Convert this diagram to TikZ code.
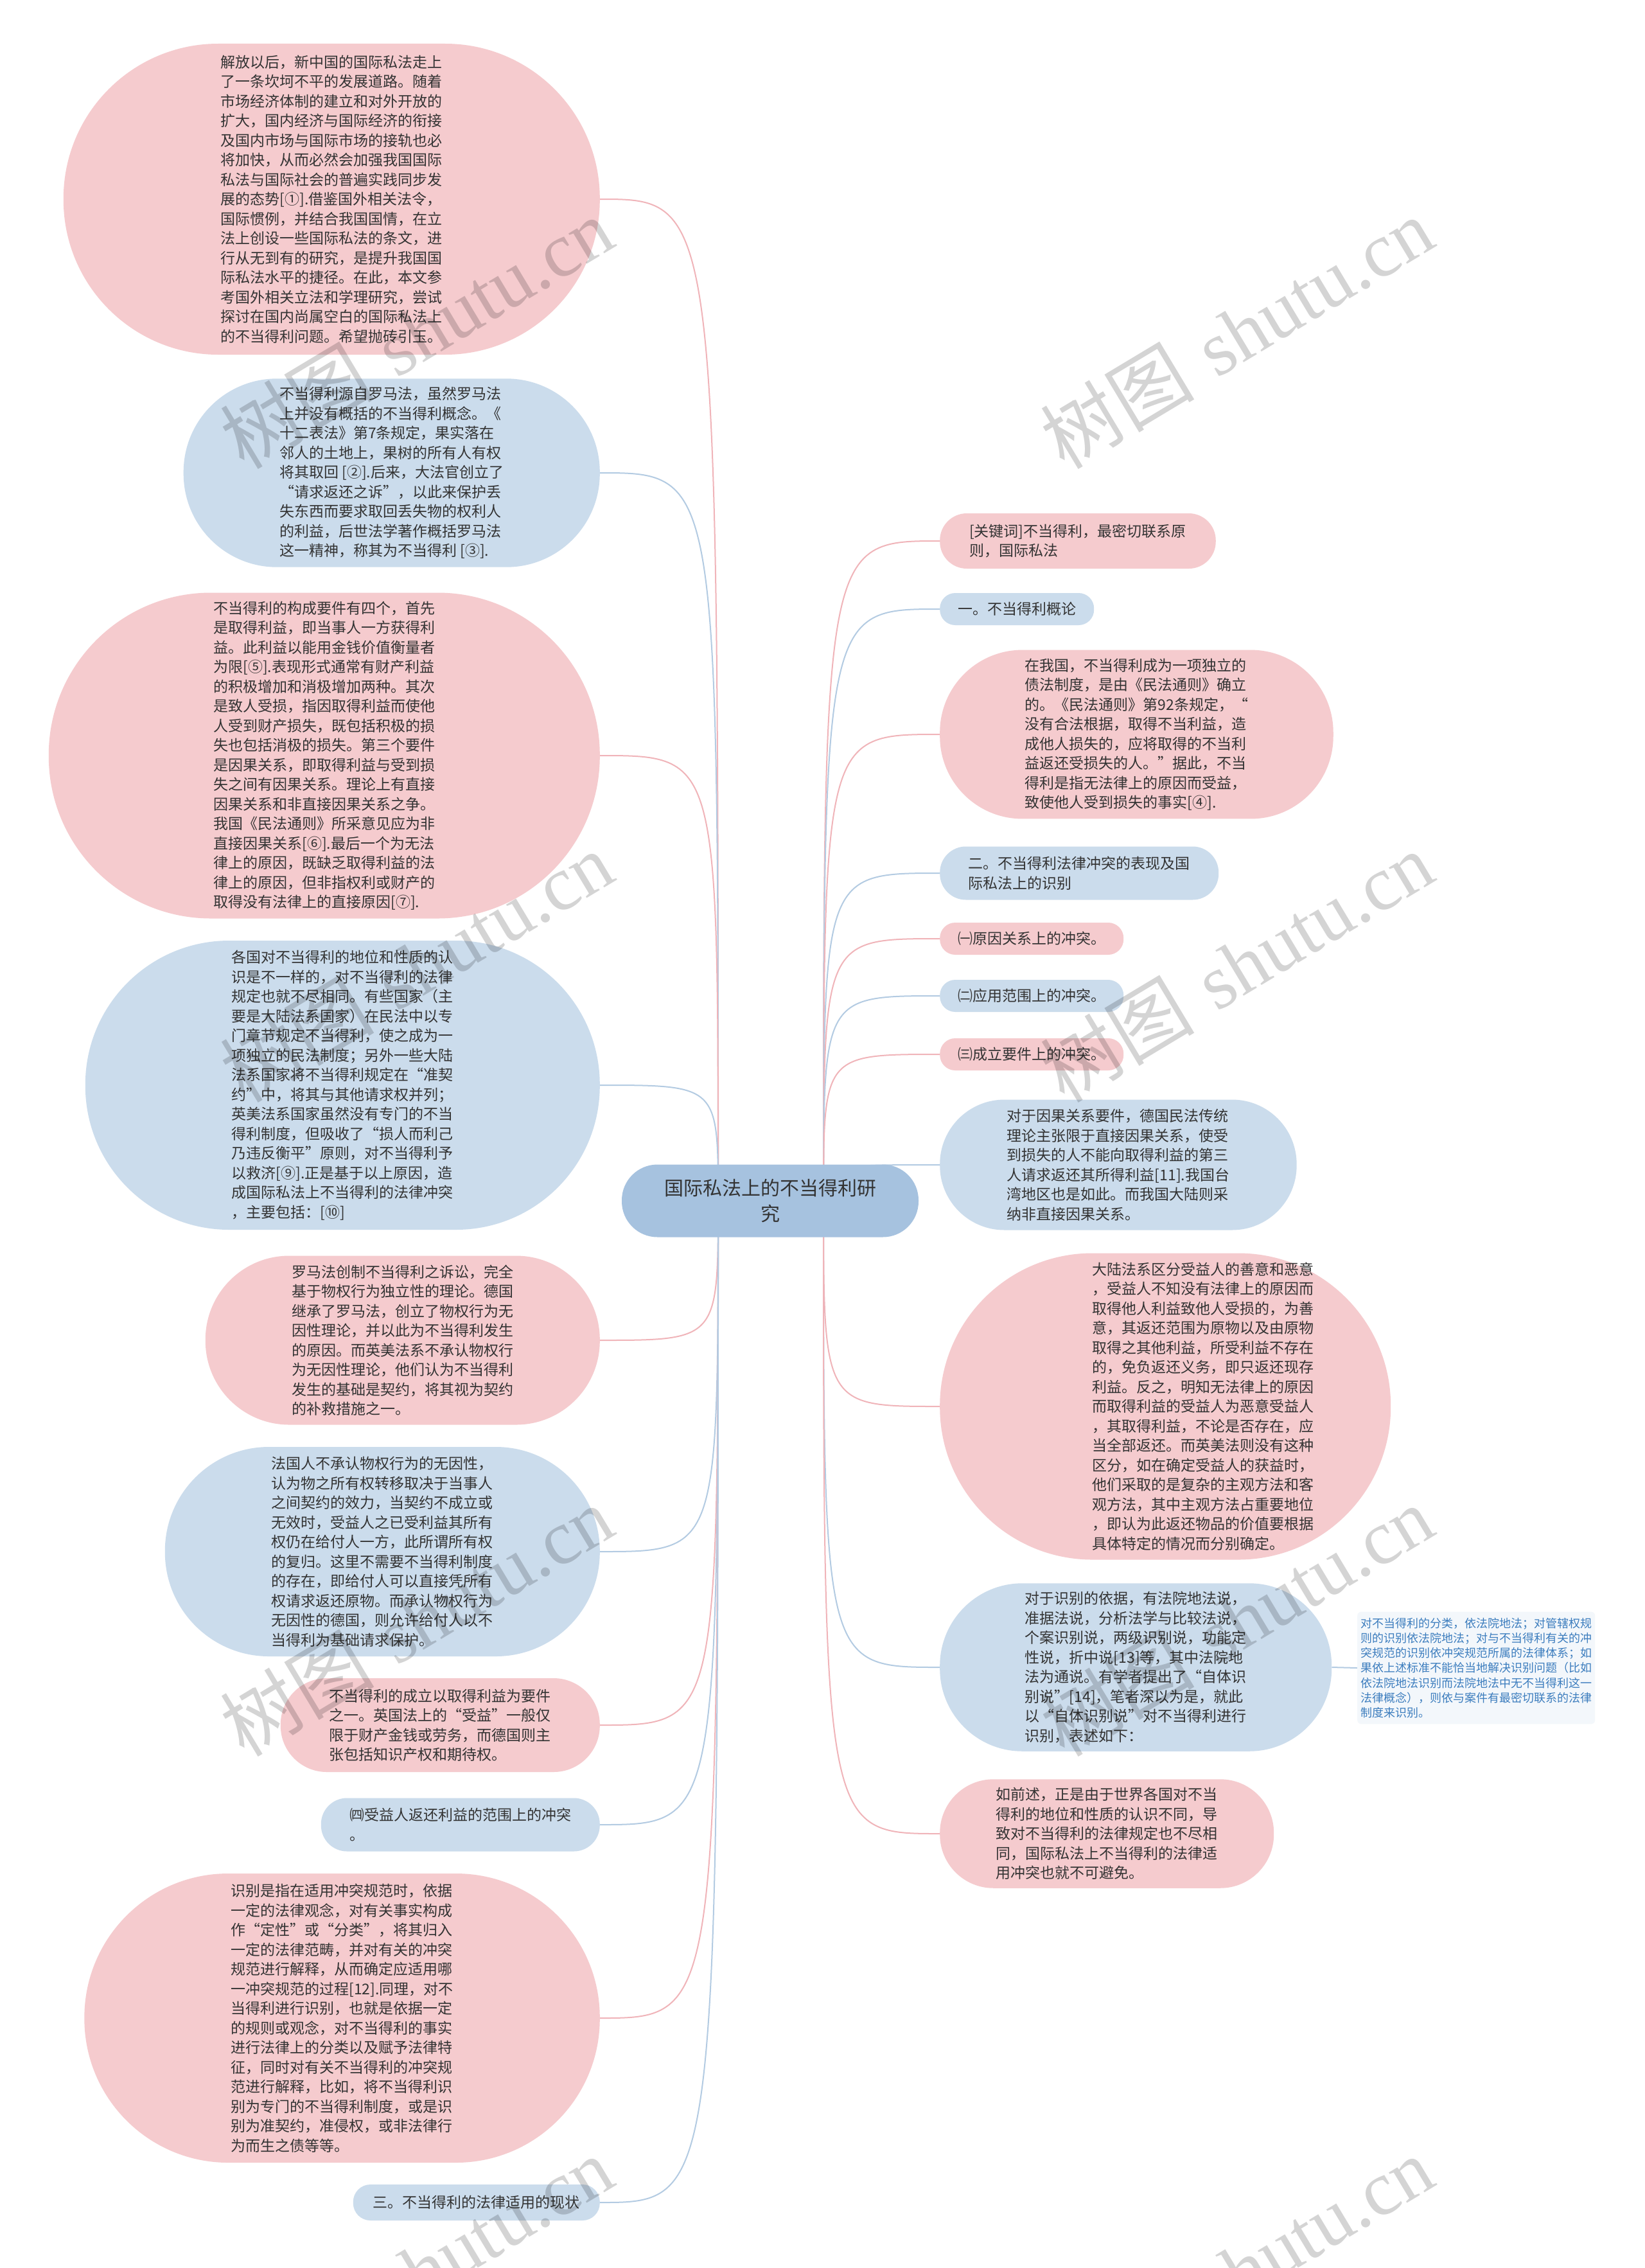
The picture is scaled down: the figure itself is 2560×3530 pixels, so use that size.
\documentclass[tikz,border=0pt]{standalone}
\usepackage{fontspec}
\newfontfamily\cjk{Noto Sans CJK SC}
\newfontfamily\wmserif{Liberation Serif}
\definecolor{pinkfill}{HTML}{F5CBCE}
\definecolor{bluefill}{HTML}{CBDCEC}
\definecolor{centerfill}{HTML}{A6C2DF}
\definecolor{pinkline}{HTML}{F0B4B9}
\definecolor{blueline}{HTML}{B3CBE2}
\definecolor{txt}{HTML}{333333}
\definecolor{notetxt}{HTML}{3C7DBE}
\definecolor{notefill}{HTML}{F3F7FB}
\pgfdeclarelayer{bg}
\pgfdeclarelayer{edges}
\pgfsetlayers{bg,edges,main}
\tikzset{
  basenode/.style={rectangle, inner ysep=13pt, align=left, text=txt,
    font=\cjk\fontsize{23}{30.5}\selectfont},
  pinknode/.style 2 args={basenode, fill=pinkfill, minimum height=#1, inner xsep=#2+4, rounded corners=#2},
  bluenode/.style 2 args={basenode, fill=bluefill, minimum height=#1, inner xsep=#2+4, rounded corners=#2},
  plaintext/.style={rectangle, inner sep=0pt, align=left, text=txt, font=\cjk\fontsize{23}{30.5}\selectfont},
  centernode/.style={rectangle, inner xsep=66pt, inner ysep=10pt, rounded corners=55.5pt, align=center, text=txt,
    fill=centerfill, minimum height=113pt, font=\cjk\fontsize{30}{40}\selectfont},
  notenode/.style={rectangle, rounded corners=6pt, fill=notefill, inner xsep=5pt, inner ysep=9pt,
    align=left, text=notetxt, font=\cjk\fontsize{18}{23.3}\selectfont},
  pinkedge/.style={draw=pinkline, line width=2pt},
  blueedge/.style={draw=blueline, line width=2pt},
  watermark/.style={rotate=31, text=black, text opacity=0.17, font=\fontsize{120}{130}\selectfont}
}
\begin{document}
\begin{tikzpicture}[x=1pt,y=-1pt]
\useasboundingbox (0,0) rectangle (2560,3530);
\begin{pgfonlayer}{bg}
\fill[white] (0,0) rectangle (2560,3530);
\end{pgfonlayer}

% center
\node[centernode] (C) at (1199,1869) {国际私法上的不当得利研\\究};
\coordinate (SL) at (1118,1869);
\coordinate (SR) at (1282,1869);

% left column
\node[pinknode={484}{241}, anchor=east] (L1) at (934,310) {解放以后，新中国的国际私法走上\\
了一条坎坷不平的发展道路。随着\\
市场经济体制的建立和对外开放的\\
扩大，国内经济与国际经济的衔接\\
及国内市场与国际市场的接轨也必\\
将加快，从而必然会加强我国国际\\
私法与国际社会的普遍实践同步发\\
展的态势[①].借鉴国外相关法令，\\
国际惯例，并结合我国国情，在立\\
法上创设一些国际私法的条文，进\\
行从无到有的研究，是提升我国国\\
际私法水平的捷径。在此，本文参\\
考国外相关立法和学理研究，尝试\\
探讨在国内尚属空白的国际私法上\\
的不当得利问题。希望抛砖引玉。};

\node[bluenode={293}{145.5}, anchor=east] (L2) at (934,736) {不当得利源自罗马法，虽然罗马法\\
上并没有概括的不当得利概念。《\\
十二表法》第7条规定，果实落在\\
邻人的土地上，果树的所有人有权\\
将其取回 [②].后来，大法官创立了\\
“请求返还之诉”，以此来保护丢\\
失东西而要求取回丢失物的权利人\\
的利益，后世法学著作概括罗马法\\
这一精神，称其为不当得利 [③].};

\node[pinknode={507}{252.5}, anchor=east] (L3) at (934,1176) {不当得利的构成要件有四个，首先\\
是取得利益，即当事人一方获得利\\
益。此利益以能用金钱价值衡量者\\
为限[⑤].表现形式通常有财产利益\\
的积极增加和消极增加两种。其次\\
是致人受损，指因取得利益而使他\\
人受到财产损失，既包括积极的损\\
失也包括消极的损失。第三个要件\\
是因果关系，即取得利益与受到损\\
失之间有因果关系。理论上有直接\\
因果关系和非直接因果关系之争。\\
我国《民法通则》所采意见应为非\\
直接因果关系[⑥].最后一个为无法\\
律上的原因，既缺乏取得利益的法\\
律上的原因，但非指权利或财产的\\
取得没有法律上的直接原因[⑦].};

\node[bluenode={450}{224}, anchor=east] (L4) at (934,1689) {各国对不当得利的地位和性质的认\\
识是不一样的，对不当得利的法律\\
规定也就不尽相同。有些国家（主\\
要是大陆法系国家）在民法中以专\\
门章节规定不当得利，使之成为一\\
项独立的民法制度；另外一些大陆\\
法系国家将不当得利规定在“准契\\
约”中，将其与其他请求权并列；\\
英美法系国家虽然没有专门的不当\\
得利制度，但吸收了“损人而利己\\
乃违反衡平”原则，对不当得利予\\
以救济[⑨].正是基于以上原因，造\\
成国际私法上不当得利的法律冲突\\
，主要包括：[⑩]};

\node[pinknode={263}{130.5}, anchor=east] (L5) at (934,2086) {罗马法创制不当得利之诉讼，完全\\
基于物权行为独立性的理论。德国\\
继承了罗马法，创立了物权行为无\\
因性理论，并以此为不当得利发生\\
的原因。而英美法系不承认物权行\\
为无因性理论，他们认为不当得利\\
发生的基础是契约，将其视为契约\\
的补救措施之一。};

\node[bluenode={326}{162}, anchor=east] (L6) at (934,2415) {法国人不承认物权行为的无因性，\\
认为物之所有权转移取决于当事人\\
之间契约的效力，当契约不成立或\\
无效时，受益人之已受利益其所有\\
权仍在给付人一方，此所谓所有权\\
的复归。这里不需要不当得利制度\\
的存在，即给付人可以直接凭所有\\
权请求返还原物。而承认物权行为\\
无因性的德国，则允许给付人以不\\
当得利为基础请求保护。};

\node[pinknode={146}{72}, anchor=east] (L7) at (934,2685) {不当得利的成立以取得利益为要件\\
之一。英国法上的“受益”一般仅\\
限于财产金钱或劳务，而德国则主\\
张包括知识产权和期待权。};

\node[bluenode={83}{40.5}, anchor=east] (L8) at (934,2840) {㈣受益人返还利益的范围上的冲突\\
。};

\node[pinknode={450}{224}, anchor=east] (L9) at (934,3141) {识别是指在适用冲突规范时，依据\\
一定的法律观念，对有关事实构成\\
作“定性”或“分类”，将其归入\\
一定的法律范畴，并对有关的冲突\\
规范进行解释，从而确定应适用哪\\
一冲突规范的过程[12].同理，对不\\
当得利进行识别，也就是依据一定\\
的规则或观念，对不当得利的事实\\
进行法律上的分类以及赋予法律特\\
征，同时对有关不当得利的冲突规\\
范进行解释，比如，将不当得利识\\
别为专门的不当得利制度，或是识\\
别为准契约，准侵权，或非法律行\\
为而生之债等等。};

\node[bluenode={56}{27}, anchor=east] (L10) at (934,3428) {三。不当得利的法律适用的现状};

% right column
\node[pinknode={86}{42}, anchor=west] (R1) at (1463,842) {[关键词]不当得利，最密切联系原\\
则，国际私法};

\node[bluenode={50}{24}, anchor=west] (R2) at (1463,948) {一。不当得利概论};

\node[pinknode={259}{128.5}, anchor=west] (R3) at (1463,1143) {在我国，不当得利成为一项独立的\\
债法制度，是由《民法通则》确立\\
的。《民法通则》第92条规定，“\\
没有合法根据，取得不当利益，造\\
成他人损失的，应将取得的不当利\\
益返还受损失的人。”据此，不当\\
得利是指无法律上的原因而受益，\\
致使他人受到损失的事实[④].};

\node[bluenode={83}{40.5}, anchor=west] (R4) at (1463,1359) {二。不当得利法律冲突的表现及国\\
际私法上的识别};

\node[pinknode={50}{24}, anchor=west] (R5) at (1463,1461) {㈠原因关系上的冲突。};
\node[bluenode={50}{24}, anchor=west] (R6) at (1463,1550) {㈡应用范围上的冲突。};
\node[pinknode={50}{24}, anchor=west] (R7) at (1463,1641) {㈢成立要件上的冲突。};

\node[bluenode={203}{100.5}, anchor=west] (R8) at (1463,1813) {对于因果关系要件，德国民法传统\\
理论主张限于直接因果关系，使受\\
到损失的人不能向取得利益的第三\\
人请求返还其所得利益[11].我国台\\
湾地区也是如此。而我国大陆则采\\
纳非直接因果关系。};

\node[rectangle, fill=pinkfill, minimum width=702pt, minimum height=477pt, rounded corners=237.5pt, inner sep=0pt, anchor=west] (R9) at (1463,2189) {};
\node[plaintext, anchor=west] (R9t) at (1700,2189) {大陆法系区分受益人的善意和恶意\\
，受益人不知没有法律上的原因而\\
取得他人利益致他人受损的，为善\\
意，其返还范围为原物以及由原物\\
取得之其他利益，所受利益不存在\\
的，免负返还义务，即只返还现存\\
利益。反之，明知无法律上的原因\\
而取得利益的受益人为恶意受益人\\
，其取得利益，不论是否存在，应\\
当全部返还。而英美法则没有这种\\
区分，如在确定受益人的获益时，\\
他们采取的是复杂的主观方法和客\\
观方法，其中主观方法占重要地位\\
，即认为此返还物品的价值要根据\\
具体特定的情况而分别确定。};

\node[bluenode={259}{128.5}, anchor=west] (R10) at (1463,2595) {对于识别的依据，有法院地法说，\\
准据法说，分析法学与比较法说，\\
个案识别说，两级识别说，功能定\\
性说，折中说[13]等，其中法院地\\
法为通说。有学者提出了“自体识\\
别说”[14]，笔者深以为是，就此\\
以“自体识别说”对不当得利进行\\
识别，表述如下：};

\node[notenode, anchor=west] (N1) at (2113,2596) {对不当得利的分类，依法院地法；对管辖权规\\
则的识别依法院地法；对与不当得利有关的冲\\
突规范的识别依冲突规范所属的法律体系；如\\
果依上述标准不能恰当地解决识别问题（比如\\
依法院地法识别而法院地法中无不当得利这一\\
法律概念），则依与案件有最密切联系的法律\\
制度来识别。};

\node[pinknode={169}{83.5}, anchor=west] (R12) at (1463,2854) {如前述，正是由于世界各国对不当\\
得利的地位和性质的认识不同，导\\
致对不当得利的法律规定也不尽相\\
同，国际私法上不当得利的法律适\\
用冲突也就不可避免。};

% connectors
\begin{pgfonlayer}{edges}
\foreach \n/\s in {L1/pinkedge,L2/blueedge,L3/pinkedge,L4/blueedge,L5/pinkedge,L6/blueedge,L7/pinkedge,L8/blueedge,L9/pinkedge,L10/blueedge}{
  \draw[\s] (SL) .. controls (SL |- \n.east) and (SL |- \n.east) .. (\n.east);
}
\foreach \n/\s in {R1/pinkedge,R2/blueedge,R3/pinkedge,R4/blueedge,R5/pinkedge,R6/blueedge,R7/pinkedge,R8/blueedge,R9/pinkedge,R10/blueedge,R12/pinkedge}{
  \draw[\s] (SR) .. controls (SR |- \n.west) and (SR |- \n.west) .. (\n.west);
}
\draw[blueedge] (R10.east) -- (N1.west);
\end{pgfonlayer}

% watermarks
\foreach \wx/\wy/\k in {648/518/1,1925/518/2,648/1504/3,1925/1504/4,648/2522/5,1925/2522/6,648/3535/7,1925/3535/8}{
  \node[watermark] (W\k) at (\wx,\wy) {{\cjk 树图} {\wmserif shutu.cn}};
}
\end{tikzpicture}
\end{document}
